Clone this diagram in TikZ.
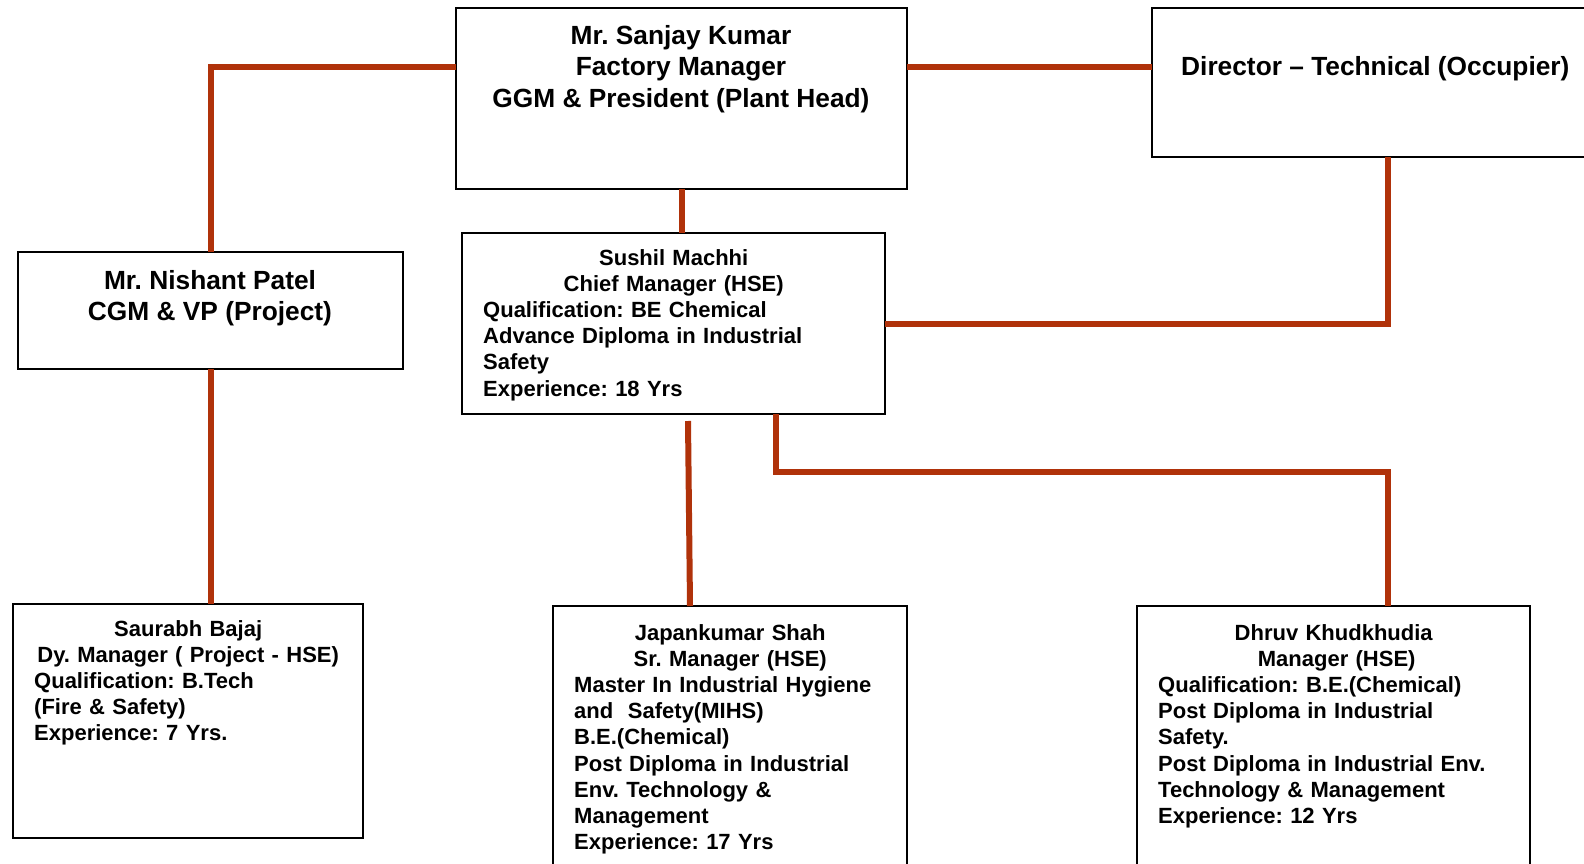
\documentclass[tikz,border=0pt]{standalone}
\usepackage{fontspec}
\setmainfont{Liberation Sans}
\usetikzlibrary{positioning}
\usetikzlibrary{calc}
\definecolor{linkred}{RGB}{176,50,10}
\setlength{\parindent}{0pt}
\frenchspacing

\begin{document}
\begin{tikzpicture}[x=1pt,y=-1pt,
  box/.style={draw,line width=1.6pt,inner sep=0pt,outer sep=0pt,anchor=north west},
  link/.style={draw=linkred,line width=6pt},
  head/.style={inner sep=0pt,align=center,font=\fontsize{26.3}{31.5}\selectfont\bfseries},
  info/.style={inner sep=0pt,anchor=north west,align=left,font=\fontsize{22}{26.2}\selectfont\bfseries}]
\useasboundingbox (0,0) rectangle (1584,864);
\node[box,minimum width=451pt,minimum height=181pt] (gm) at (456,8) {};
\node[box,minimum width=450pt,minimum height=149pt] (dir) at (1152,8) {};
\node[box,minimum width=385pt,minimum height=117pt] (np) at (18,252) {};
\node[box,minimum width=423pt,minimum height=181pt] (hs) at (462,233) {};
\node[box,minimum width=350pt,minimum height=234pt] (sb) at (13,604) {};
\node[box,minimum width=354pt,minimum height=280pt] (js) at (553,606) {};
\node[box,minimum width=393pt,minimum height=280pt] (dk) at (1137,606) {};
\node[head,anchor=north] (gm-t) at (681,25) {Mr. Sanjay Kumar\\Factory Manager\\GGM \& President (Plant Head)};
\node[head,anchor=base west] (dir-t) at (1181,76) {Director -- Technical (Occupier)};
\node[head,anchor=north] (np-t) at (210,270) {Mr. Nishant Patel\\CGM \& VP (Project)};
\node[info,text width=381pt] (hs-t) at (483,249) {{\centering Sushil Machhi\\Chief Manager (HSE)\par}
Qualification: BE Chemical\\Advance Diploma in Industrial\\Safety\\Experience: 18 Yrs};
\node[info,text width=308pt] (sb-t) at (34,620) {{\centering Saurabh Bajaj\\Dy. Manager ( Project - HSE)\par}
Qualification: B.Tech\\(Fire \& Safety)\\Experience: 7 Yrs.};
\node[info,text width=312pt] (js-t) at (574,624) {{\centering Japankumar Shah\\Sr. Manager (HSE)\par}
Master In Industrial Hygiene\\and\ \ Safety(MIHS)\\B.E.(Chemical)\\Post Diploma in Industrial\\Env. Technology \&\\Management\\Experience: 17 Yrs};
\node[info,text width=351pt] (dk-t) at (1158,624) {{\centering Dhruv Khudkhudia\\\hspace*{6pt}Manager (HSE)\par}
Qualification: B.E.(Chemical)\\Post Diploma in Industrial\\Safety.\\Post Diploma in Industrial Env.\\Technology \& Management\\Experience: 12 Yrs};
\coordinate (j1) at (211,67);
\coordinate (j2) at (1388,324);
\coordinate (j3) at (688,421);
\coordinate (j4) at (776,472);
\draw[link] (gm.west |- j1) -| (np.north);
\draw[link] (gm.east |- j1) -- (dir.west |- j1);
\draw[link] (gm.south) -- (gm.south |- hs.north);
\draw[link] (dir.south -| j2) |- (hs.east |- j2);
\draw[link] (np.south) -- (np.south |- sb.north);
\draw[link] (j3) -- ([xshift=-40pt]js.north);
\draw[link] (hs.south -| j4) -- (j4) -| (dk.north -| j2);
\end{tikzpicture}
\end{document}
